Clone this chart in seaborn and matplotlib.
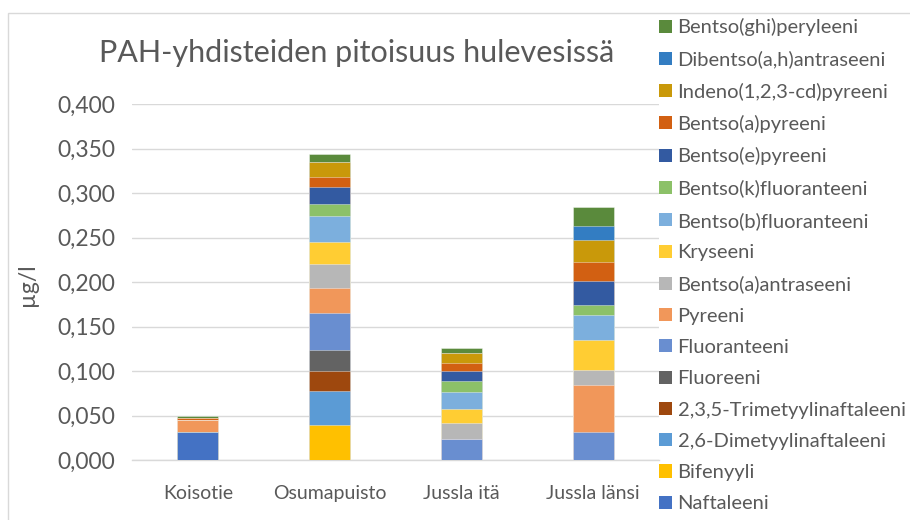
import matplotlib
matplotlib.use("Agg")
import matplotlib.pyplot as plt
import matplotlib.patches as mpatches
from matplotlib.ticker import FuncFormatter
import seaborn as sns
import pandas as pd
import numpy as np

categories = ["Koisotie", "Osumapuisto", "Jussla itä", "Jussla länsi"]

compounds = [
    "Naftaleeni", "Bifenyyli", "2,6-Dimetyylinaftaleeni", "2,3,5-Trimetyylinaftaleeni",
    "Fluoreeni", "Fluoranteeni", "Pyreeni", "Bentso(a)antraseeni", "Kryseeni",
    "Bentso(b)fluoranteeni", "Bentso(k)fluoranteeni", "Bentso(e)pyreeni",
    "Bentso(a)pyreeni", "Indeno(1,2,3-cd)pyreeni", "Dibentso(a,h)antraseeni",
    "Bentso(ghi)peryleeni",
]

naftaleeni = [0.032, 0.0, 0.0, 0.0]
bifenyyli = [0.0, 0.039, 0.0, 0.0]
dimetyylinaftaleeni = [0.0, 0.038, 0.0, 0.0]
trimetyylinaftaleeni = [0.0, 0.023, 0.0, 0.0]
fluoreeni = [0.0, 0.024, 0.0, 0.0]
fluoranteeni = [0.0, 0.041, 0.0236, 0.032]
pyreeni = [0.013, 0.028, 0.0, 0.052]
bentso_a_antraseeni = [0.0, 0.027, 0.018, 0.0174]
kryseeni = [0.0, 0.0246, 0.0161, 0.033]
bentso_b_fluoranteeni = [0.0, 0.0294, 0.0191, 0.028]
bentso_k_fluoranteeni = [0.0, 0.0138, 0.012, 0.0112]
bentso_e_pyreeni = [0.0, 0.0186, 0.0109, 0.027]
bentso_a_pyreeni = [0.0025, 0.0112, 0.0097, 0.0216]
indeno_pyreeni = [0.0, 0.0171, 0.0105, 0.025]
dibentso_antraseeni = [0.0, 0.0, 0.0, 0.0152]
bentso_ghi_peryleeni = [0.002, 0.0093, 0.0056, 0.022]

series = [
    naftaleeni, bifenyyli, dimetyylinaftaleeni, trimetyylinaftaleeni, fluoreeni,
    fluoranteeni, pyreeni, bentso_a_antraseeni, kryseeni, bentso_b_fluoranteeni,
    bentso_k_fluoranteeni, bentso_e_pyreeni, bentso_a_pyreeni, indeno_pyreeni,
    dibentso_antraseeni, bentso_ghi_peryleeni,
]

colors = [
    "#4472C4", "#FFC000", "#5B9BD5", "#9E480E", "#636363", "#698ED0", "#F1975A",
    "#B7B7B7", "#FFCD33", "#7CAFDD", "#8CC168", "#335AA1", "#D26012", "#C9990A",
    "#337DC2", "#5A8A3C",
]

y_ticks = [0.0, 0.05, 0.10, 0.15, 0.20, 0.25, 0.30, 0.35, 0.40]

title = "PAH-yhdisteiden pitoisuus hulevesissä"
y_label = "µg/l"

text_color = "#595959"
grid_color = "#D9D9D9"

sns.set_theme(style="white")
plt.rcParams["font.family"] = ["Lato", "DejaVu Sans"]

df = pd.DataFrame(np.array(series).T, index=categories, columns=compounds)
cum = df.cumsum(axis=1)

fig = plt.figure(figsize=(9.10, 5.20), dpi=100)
ax = fig.add_axes([132 / 910, 60 / 520, 527 / 910, 356 / 520])

for i in range(len(compounds) - 1, -1, -1):
    name = compounds[i]
    d = pd.DataFrame({"cat": categories, "val": cum[name].values})
    sns.barplot(data=d, x="cat", y="val", order=categories, color=colors[i],
                saturation=1, width=0.31, ax=ax, errorbar=None,
                edgecolor=(1, 1, 1, 0.45), linewidth=0.6, zorder=3)

ax.set_ylim(0, 0.4)
ax.set_xlim(-0.5, 3.5)
ax.set_yticks(y_ticks)
ax.yaxis.set_major_formatter(FuncFormatter(lambda v, p: f"{v:.3f}".replace(".", ",")))
ax.grid(axis="y", color=grid_color, linewidth=1.0, zorder=0)
ax.set_axisbelow(True)
for s in ["top", "right", "left"]:
    ax.spines[s].set_visible(False)
ax.spines["bottom"].set_color(grid_color)
ax.spines["bottom"].set_linewidth(1.0)
ax.tick_params(axis="y", length=0, pad=12, labelsize=16.5, labelcolor=text_color)
ax.tick_params(axis="x", length=0, pad=18, labelsize=14, labelcolor=text_color)
ax.set_xlabel("")
ax.set_ylabel("")

fig.text(28 / 910, 1 - 285 / 520, y_label, rotation=90, ha="center", va="center",
         fontsize=16.5, color=text_color)
fig.text(357 / 910, 1 - 53 / 520, title, ha="center", va="center",
         fontsize=22, color=text_color)

handles = [mpatches.Patch(facecolor=colors[i], edgecolor="none", label=compounds[i])
           for i in range(len(compounds) - 1, -1, -1)]
leg = fig.legend(handles=handles, loc="upper left",
                 bbox_to_anchor=(651 / 910, 1 - 10 / 520), frameon=False,
                 fontsize=14.5, handlelength=0.62, handleheight=0.62,
                 handletextpad=0.3, labelspacing=0.71, borderaxespad=0)
for t in leg.get_texts():
    t.set_color(text_color)

border = mpatches.Rectangle((8 / 910, -0.05), 1.1, 1 - 13 / 520 + 0.05,
                            transform=fig.transFigure, fill=False,
                            edgecolor=grid_color, linewidth=1.0)
fig.patches.append(border)

fig.savefig("out.png", dpi=100)
